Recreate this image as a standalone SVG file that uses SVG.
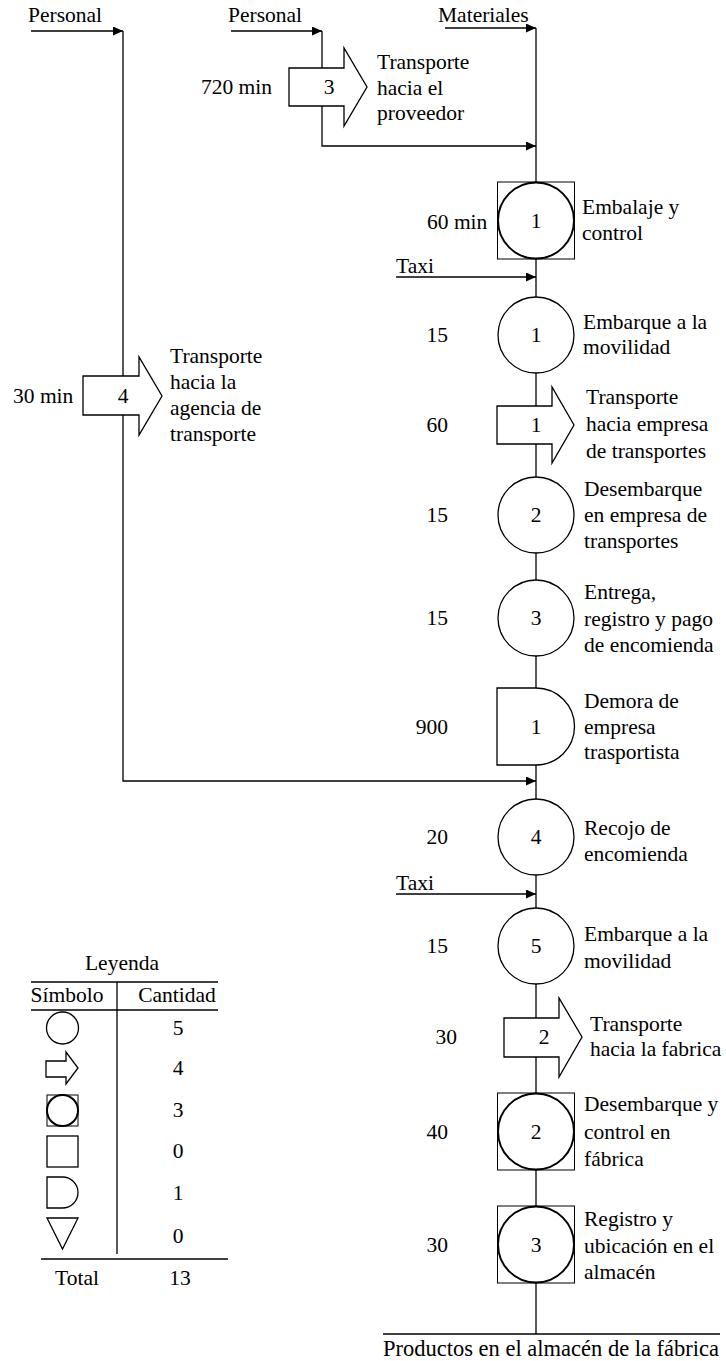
<svg xmlns="http://www.w3.org/2000/svg" width="726" height="1361" viewBox="0 0 726 1361">
  <style>
    .t { font-family: "Liberation Serif", "Times New Roman", serif; font-size: 21.5px; fill: #000; }
    .m { text-anchor: middle; }
    .e { text-anchor: end; }
    .ln { stroke: #000; stroke-width: 1.3; fill: none; }
    .sh { stroke: #000; stroke-width: 1.3; fill: #fff; }
    .sq { stroke: #000; stroke-width: 1; fill: #fff; }
    .ci { stroke: #000; stroke-width: 2; fill: none; }
  </style>
  <defs>
    <marker id="ah" markerUnits="userSpaceOnUse" markerWidth="11" markerHeight="10" refX="10" refY="4.5" orient="auto">
      <path d="M0,0 L10,4.5 L0,9 Z" fill="#000"/>
    </marker>
  </defs>
  <rect width="726" height="1361" fill="#fff"/>

  <!-- connectors -->
  <g id="connectors">
    <!-- main material line -->
    <line class="ln" x1="536" y1="28" x2="536" y2="1334"/>
    <line class="ln" x1="445" y1="28" x2="536" y2="28" marker-end="url(#ah)"/>
    <!-- personnel to supplier -->
    <line class="ln" x1="231" y1="31" x2="322" y2="31" marker-end="url(#ah)"/>
    <polyline class="ln" points="322,31 322,146 536,146" marker-end="url(#ah)"/>
    <!-- personnel to transport agency -->
    <line class="ln" x1="31" y1="31" x2="123" y2="31" marker-end="url(#ah)"/>
    <polyline class="ln" points="123,31 123,781 536,781" marker-end="url(#ah)"/>
    <!-- taxis -->
    <line class="ln" x1="396" y1="277" x2="536" y2="277" marker-end="url(#ah)"/>
    <line class="ln" x1="396" y1="894" x2="536" y2="894" marker-end="url(#ah)"/>
    <!-- end line -->
    <line class="ln" x1="383" y1="1334" x2="720" y2="1334"/>
  </g>

  <!-- stream headers -->
  <g id="headers">
    <text class="t" x="28" y="22">Personal</text>
    <text class="t" x="228" y="22">Personal</text>
    <text class="t" x="438" y="22">Materiales</text>
    <text class="t" x="396" y="273">Taxi</text>
    <text class="t" x="396" y="890">Taxi</text>
    <text class="t m" x="551" y="1356" style="font-size:22.5px">Productos en el almacén de la fábrica</text>
  </g>

  <!-- transport 3 -->
  <g id="tr3">
    <polygon class="sh" points="289,68 344,68 344,48 367,87 344,126 344,106 289,106"/>
    <text class="t m" x="329" y="94">3</text>
    <text class="t e" x="272" y="94">720 min</text>
    <text class="t" x="377" y="69">Transporte</text>
    <text class="t" x="377" y="95">hacia el</text>
    <text class="t" x="377" y="120">proveedor</text>
  </g>

  <!-- transport 4 -->
  <g id="tr4">
    <polygon class="sh" points="83,376 139,376 139,357 162,396 139,435 139,415 83,415"/>
    <text class="t m" x="123" y="403">4</text>
    <text class="t" x="13" y="403">30 min</text>
    <text class="t" x="170" y="363">Transporte</text>
    <text class="t" x="170" y="389">hacia la</text>
    <text class="t" x="170" y="415">agencia de</text>
    <text class="t" x="170" y="441">transporte</text>
  </g>

  <!-- combined 1 -->
  <g id="comb1">
    <rect class="sq" x="497.5" y="182" width="77" height="77"/>
    <circle class="ci" cx="536" cy="220.5" r="38"/>
    <text class="t m" x="536" y="228">1</text>
    <text class="t" x="427" y="229">60 min</text>
    <text class="t" x="582" y="214">Embalaje y</text>
    <text class="t" x="582" y="240">control</text>
  </g>

  <!-- operation 1 -->
  <g id="op1">
    <circle class="sh" cx="536" cy="335" r="38"/>
    <text class="t m" x="536" y="342">1</text>
    <text class="t e" x="448" y="342">15</text>
    <text class="t" x="583" y="329">Embarque a la</text>
    <text class="t" x="583" y="354">movilidad</text>
  </g>

  <!-- transport 1 -->
  <g id="tr1">
    <polygon class="sh" points="497,406 552,406 552,387 574,425 552,463 552,444 497,444"/>
    <text class="t m" x="536" y="432">1</text>
    <text class="t e" x="448" y="432">60</text>
    <text class="t" x="586" y="404">Transporte</text>
    <text class="t" x="586" y="431">hacia empresa</text>
    <text class="t" x="586" y="458">de transportes</text>
  </g>

  <!-- operation 2 -->
  <g id="op2">
    <circle class="sh" cx="536" cy="515" r="38"/>
    <text class="t m" x="536" y="522">2</text>
    <text class="t e" x="448" y="522">15</text>
    <text class="t" x="584" y="496">Desembarque</text>
    <text class="t" x="584" y="522">en empresa de</text>
    <text class="t" x="584" y="548">transportes</text>
  </g>

  <!-- operation 3 -->
  <g id="op3">
    <circle class="sh" cx="536" cy="618" r="38"/>
    <text class="t m" x="536" y="625">3</text>
    <text class="t e" x="448" y="625">15</text>
    <text class="t" x="584" y="599">Entrega,</text>
    <text class="t" x="584" y="626">registro y pago</text>
    <text class="t" x="584" y="652">de encomienda</text>
  </g>

  <!-- delay 1 -->
  <g id="delay1">
    <path class="sh" d="M497,688 H536 A38.5,38.5 0 0 1 536,765 H497 Z"/>
    <text class="t m" x="536" y="734">1</text>
    <text class="t e" x="448" y="734">900</text>
    <text class="t" x="584" y="708">Demora de</text>
    <text class="t" x="584" y="734">empresa</text>
    <text class="t" x="584" y="759">trasportista</text>
  </g>

  <!-- operation 4 -->
  <g id="op4">
    <circle class="sh" cx="536" cy="837" r="38"/>
    <text class="t m" x="536" y="844">4</text>
    <text class="t e" x="448" y="844">20</text>
    <text class="t" x="584" y="835">Recojo de</text>
    <text class="t" x="584" y="861">encomienda</text>
  </g>

  <!-- operation 5 -->
  <g id="op5">
    <circle class="sh" cx="536" cy="946" r="38"/>
    <text class="t m" x="536" y="953">5</text>
    <text class="t e" x="448" y="953">15</text>
    <text class="t" x="584" y="941">Embarque a la</text>
    <text class="t" x="584" y="968">movilidad</text>
  </g>

  <!-- transport 2 -->
  <g id="tr2">
    <polygon class="sh" points="504,1018 559,1018 559,998 582,1037 559,1077 559,1057 504,1057"/>
    <text class="t m" x="544" y="1044">2</text>
    <text class="t e" x="457" y="1044">30</text>
    <text class="t" x="590" y="1031">Transporte</text>
    <text class="t" x="590" y="1056">hacia la fabrica</text>
  </g>

  <!-- combined 2 -->
  <g id="comb2">
    <rect class="sq" x="497.5" y="1093" width="77" height="77"/>
    <circle class="ci" cx="536" cy="1131.5" r="38"/>
    <text class="t m" x="536" y="1139">2</text>
    <text class="t e" x="448" y="1139">40</text>
    <text class="t" x="584" y="1111">Desembarque y</text>
    <text class="t" x="584" y="1139">control en</text>
    <text class="t" x="584" y="1166">fábrica</text>
  </g>

  <!-- combined 3 -->
  <g id="comb3">
    <rect class="sq" x="497.5" y="1206" width="77" height="77"/>
    <circle class="ci" cx="536" cy="1244.5" r="38"/>
    <text class="t m" x="536" y="1252">3</text>
    <text class="t e" x="448" y="1252">30</text>
    <text class="t" x="584" y="1226">Registro y</text>
    <text class="t" x="584" y="1253">ubicación en el</text>
    <text class="t" x="584" y="1279">almacén</text>
  </g>

  <!-- legend table -->
  <g id="legend">
    <text class="t m" x="122" y="970">Leyenda</text>
    <line class="ln" x1="31" y1="982" x2="218" y2="982"/>
    <line class="ln" x1="31" y1="1010" x2="218" y2="1010"/>
    <line class="ln" x1="117" y1="982" x2="117" y2="1254"/>
    <line class="ln" x1="41" y1="1259" x2="228" y2="1259"/>
    <text class="t m" x="67" y="1002">Símbolo</text>
    <text class="t m" x="177" y="1002">Cantidad</text>
    <circle class="sh" cx="62.5" cy="1028" r="16"/>
    <text class="t m" x="178" y="1035">5</text>
    <polygon class="sh" points="46,1061 66,1061 66,1052 78,1068 66,1084 66,1077 46,1077"/>
    <text class="t m" x="178" y="1075">4</text>
    <rect class="sq" x="47" y="1095" width="31" height="31"/>
    <circle class="ci" cx="62.5" cy="1110.5" r="15.5"/>
    <text class="t m" x="178" y="1117">3</text>
    <rect class="sh" x="47" y="1136" width="31" height="31"/>
    <text class="t m" x="178" y="1158">0</text>
    <path class="sh" d="M47,1177 H62.5 A15.5,15.5 0 0 1 62.5,1208 H47 Z"/>
    <text class="t m" x="178" y="1200">1</text>
    <polygon class="sh" points="47,1218 78,1218 62.5,1249"/>
    <text class="t m" x="178" y="1243">0</text>
    <text class="t m" x="77" y="1285">Total</text>
    <text class="t m" x="180" y="1285">13</text>
  </g>
</svg>
